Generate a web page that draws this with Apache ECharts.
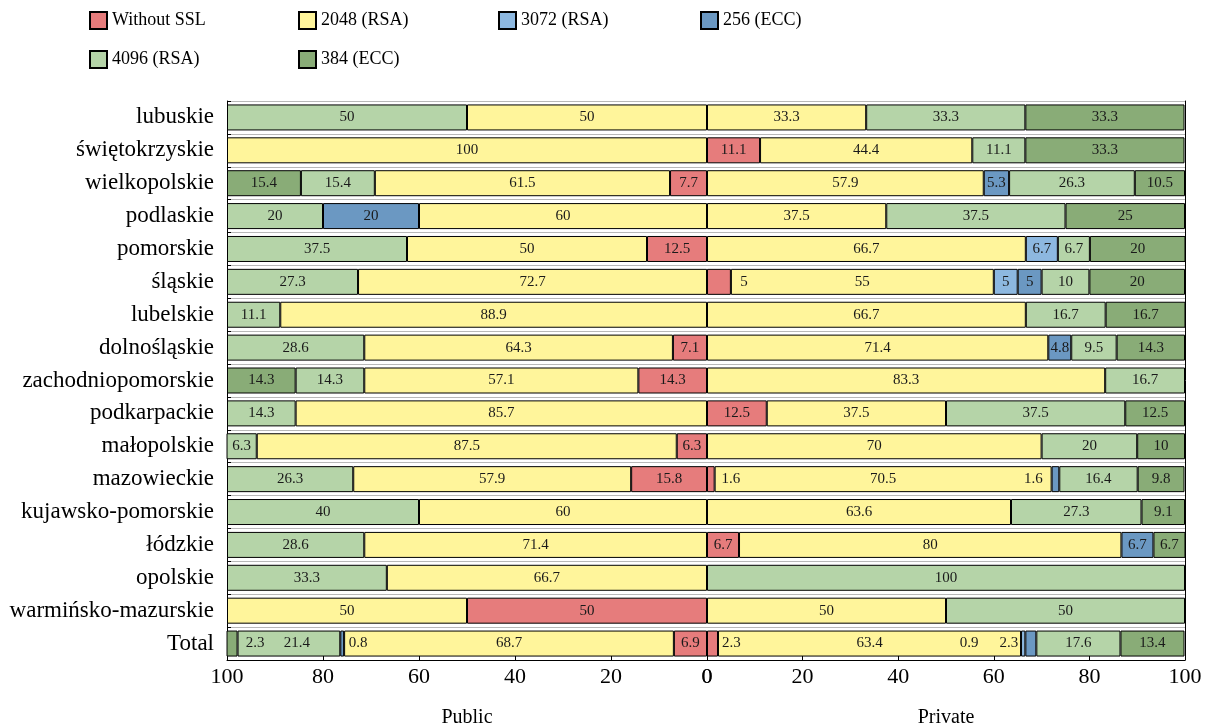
<!DOCTYPE html>
<html>
<head>
<meta charset="utf-8">
<script src="https://cdn.jsdelivr.net/npm/echarts@6/dist/echarts.min.js"></script>
<style>html,body{margin:0;padding:0;background:#fff}#c{width:1205px;height:727px}</style>
</head>
<body>
<div id="c"></div>
<script>
const categories = ['lubuskie','świętokrzyskie','wielkopolskie','podlaskie','pomorskie','śląskie','lubelskie','dolnośląskie','zachodniopomorskie','podkarpackie','małopolskie','mazowieckie','kujawsko-pomorskie','łódzkie','opolskie','warmińsko-mazurskie','Total'];
const seriesNames = ['Without SSL','2048 (RSA)','3072 (RSA)','256 (ECC)','4096 (RSA)','384 (ECC)'];

// Public
const pubNoSSL = [0,0,7.7,0,12.5,0,0,7.1,14.3,0,6.3,15.8,0,0,0,50,6.9];
const pub2048  = [50,100,61.5,60,50,72.7,88.9,64.3,57.1,85.7,87.5,57.9,60,71.4,66.7,50,68.7];
const pub3072  = [0,0,0,0,0,0,0,0,0,0,0,0,0,0,0,0,0];
const pub256   = [0,0,0,20,0,0,0,0,0,0,0,0,0,0,0,0,0.8];
const pub4096  = [50,0,15.4,20,37.5,27.3,11.1,28.6,14.3,14.3,6.3,26.3,40,28.6,33.3,0,21.4];
const pub384   = [0,0,15.4,0,0,0,0,0,14.3,0,0,0,0,0,0,0,2.3];

// Private
const privNoSSL = [0,11.1,0,0,0,5,0,0,0,12.5,0,1.6,0,6.7,0,0,2.3];
const priv2048  = [33.3,44.4,57.9,37.5,66.7,55,66.7,71.4,83.3,37.5,70,70.5,63.6,80,0,50,63.4];
const priv3072  = [0,0,0,0,6.7,5,0,0,0,0,0,0,0,0,0,0,0.9];
const priv256   = [0,0,5.3,0,0,5,0,4.8,0,0,0,1.6,0,6.7,0,0,2.3];
const priv4096  = [33.3,11.1,26.3,37.5,6.7,10,16.7,9.5,16.7,37.5,20,16.4,27.3,0,100,50,17.6];
const priv384   = [33.3,33.3,10.5,25,20,20,16.7,14.3,0,12.5,10,9.8,9.1,6.7,0,0,13.4];

const xTicks = [0,20,40,60,80,100];

const colors = ['#E67C7C','#FFF59B','#8DB8E0','#6B98C2','#B5D4A8','#89AC77'];
const FONT = 'Liberation Serif';

// label nudges (px) for tiny segments: key "side|seriesIndex|catIndex"
const nudges = {
  'priv|0|5': 25, 'priv|0|11': 20, 'priv|3|11': -22,
  'priv|0|16': 19, 'priv|2|16': -54, 'priv|3|16': -22,
  'pub|5|16': 23, 'pub|4|16': 8, 'pub|3|16': 16
};

const pubData = [pubNoSSL,pub2048,pub3072,pub256,pub4096,pub384];
const privData = [privNoSSL,priv2048,priv3072,priv256,priv4096,priv384];

function buildSeries(side, arrs, idx) {
  return arrs.map((arr, si) => ({
    name: seriesNames[si],
    type: 'bar',
    stack: side,
    xAxisIndex: idx,
    yAxisIndex: idx,
    barWidth: 26,
    itemStyle: { color: colors[si], borderColor: '#000', borderWidth: 1 },
    label: {
      show: true, position: 'inside', fontFamily: FONT, fontSize: 15, color: '#1a1a1a',
      formatter: p => (p.value == null ? '' : String(p.value))
    },
    data: arr.map((v, ci) => {
      if (!v) return null;
      const k = side + '|' + si + '|' + ci;
      if (nudges[k] !== undefined) return { value: v, label: { offset: [nudges[k], 0] } };
      return v;
    })
  }));
}

const legends = [];
const legendPos = [[89,11],[298,11],[498,11],[700,11],[89,50],[298,50]];
seriesNames.forEach((n, i) => {
  legends.push({
    data: [n], left: legendPos[i][0], top: legendPos[i][1], padding: 0,
    icon: 'rect', itemWidth: 17, itemHeight: 17, itemGap: 0,
    textStyle: { fontFamily: FONT, fontSize: 18, color: '#000' }
  });
});

const xAxisCommon = {
  type: 'value', min: 0, max: 100, interval: 20,
  axisLine: { show: true, onZero: false, lineStyle: { color: '#000', width: 1 } },
  axisTick: { show: true, inside: true, length: 5, lineStyle: { color: '#000' } },
  axisLabel: { fontFamily: FONT, fontSize: 22, color: '#000', margin: 6 },
  splitLine: { show: false },
  nameLocation: 'middle', nameGap: 48,
  nameTextStyle: { fontFamily: FONT, fontSize: 20, color: '#000' }
};

const yAxisCommon = {
  type: 'category', data: categories, inverse: true,
  axisLine: { show: true, onZero: false, lineStyle: { color: '#000', width: 1 } },
  axisTick: { show: true, inside: true, length: 4, lineStyle: { color: '#000' } },
  splitLine: { show: true, lineStyle: { color: '#b8b8b8', width: 1 } }
};

const option = {
  animation: false,
  backgroundColor: '#fff',
  legend: legends,
  grid: [
    { left: 227, width: 480, top: 101, height: 559, containLabel: false, outerBoundsMode: 'none' },
    { left: 707, width: 478, top: 101, height: 559, containLabel: false, outerBoundsMode: 'none' }
  ],
  xAxis: [
    Object.assign({}, xAxisCommon, { gridIndex: 0, inverse: true, name: 'Public' }),
    Object.assign({}, xAxisCommon, { gridIndex: 1, name: 'Private' })
  ],
  yAxis: [
    Object.assign({}, yAxisCommon, { gridIndex: 0, position: 'left',
      axisLabel: { fontFamily: FONT, fontSize: 23, color: '#000', margin: 13 } }),
    Object.assign({}, yAxisCommon, { gridIndex: 1, position: 'right',
      axisTick: { show: false }, axisLabel: { show: false } })
  ],
  series: buildSeries('pub', pubData, 0).concat(buildSeries('priv', privData, 1))
};

const chart = echarts.init(document.getElementById('c'), null, { renderer: 'canvas' });
chart.setOption(option);
</script>
</body>
</html>
